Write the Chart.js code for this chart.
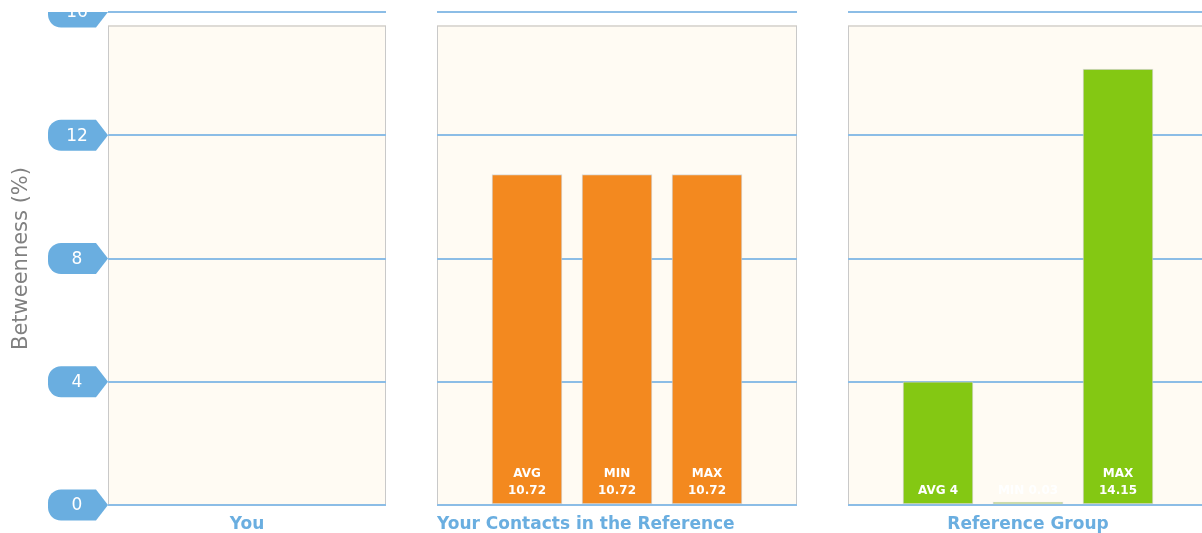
<!DOCTYPE html>
<html>
<head>
<meta charset="utf-8">
<script src="https://cdn.jsdelivr.net/npm/chart.js@4"></script>
<style>
  html, body { margin: 0; padding: 0; background: #fff; }
  body { width: 1202px; height: 533px; overflow: hidden; position: relative; }
  .panel { position: absolute; top: 0; height: 533px; }
  #youBox { left: 0; width: 386px; }
  #contactsBox { left: 437px; width: 360px; }
  #groupBox { left: 848px; width: 360px; }
</style>
</head>
<body>
<div class="panel" id="youBox"><canvas id="you"></canvas></div>
<div class="panel" id="contactsBox"><canvas id="contacts"></canvas></div>
<div class="panel" id="groupBox"><canvas id="group"></canvas></div>
<script>
const statLabels = ['AVG', 'MIN', 'MAX'];
const youValues = [null, null, null];
const contactValues = [10.72, 10.72, 10.72];
const groupValues = [4, 0.03, 14.15];
const panelTitles = ['You', 'Your Contacts in the Reference', 'Reference Group'];
const yTicks = [0, 4, 8, 12, 16];
const yTitle = 'Betweenness (%)';

const BLUE = '#6aaee0';
const GRID = '#8cbde6';
const CREAM = '#fffbf3';
const ORANGE = '#f3891f';
const GREEN = '#84c813';

// cream box behind each panel, starting a bit below the top gridline
const panelBox = {
  id: 'panelBox',
  beforeDraw(chart) {
    const { ctx, chartArea: a } = chart;
    const top = a.top + 14;
    ctx.save();
    ctx.fillStyle = CREAM;
    ctx.fillRect(a.left, top, a.right - a.left, a.bottom - top);
    ctx.strokeStyle = '#dedbd6';
    ctx.lineWidth = 2;
    ctx.beginPath();
    ctx.moveTo(a.left, top);
    ctx.lineTo(a.right, top);
    ctx.stroke();
    ctx.strokeStyle = '#c9c9c9';
    ctx.lineWidth = 1;
    ctx.beginPath();
    ctx.moveTo(a.left + 0.5, top);
    ctx.lineTo(a.left + 0.5, a.bottom);
    ctx.moveTo(a.right - 0.5, top);
    ctx.lineTo(a.right - 0.5, a.bottom);
    ctx.stroke();
    ctx.restore();
  }
};

// blue tag-shaped tick labels on the first panel
const tagTicks = {
  id: 'tagTicks',
  afterDraw(chart) {
    if (!chart.options.plugins.tagTicks.show) return;
    const { ctx, chartArea: a } = chart;
    const y = chart.scales.y;
    ctx.save();
    ctx.beginPath();
    ctx.rect(0, a.top, chart.width, chart.height);
    ctx.clip();
    y.ticks.forEach(t => {
      const cy = y.getPixelForValue(t.value);
      const x0 = 48, x1 = a.left, h = 31, r = 13, tip = 12;
      const top = cy - h / 2, bot = cy + h / 2;
      ctx.fillStyle = BLUE;
      ctx.beginPath();
      ctx.moveTo(x1 - tip, top);
      ctx.lineTo(x1, cy);
      ctx.lineTo(x1 - tip, bot);
      ctx.lineTo(x0 + r, bot);
      ctx.arcTo(x0, bot, x0, cy, r);
      ctx.arcTo(x0, top, x0 + r, top, r);
      ctx.closePath();
      ctx.fill();
      ctx.fillStyle = '#fff';
      ctx.font = '17px "DejaVu Sans"';
      ctx.textAlign = 'center';
      ctx.textBaseline = 'middle';
      ctx.fillText(String(t.value), 77, cy + 1);
    });
    ctx.restore();
  }
};

// white stat labels at the foot of each bar
const barLabels = {
  id: 'barLabels',
  afterDatasetsDraw(chart) {
    const { ctx } = chart;
    const meta = chart.getDatasetMeta(0);
    const data = chart.data.datasets[0].data;
    const names = chart.data.labels;
    ctx.save();
    ctx.font = 'bold 12px "DejaVu Sans"';
    ctx.fillStyle = '#fff';
    ctx.textAlign = 'center';
    ctx.textBaseline = 'middle';
    meta.data.forEach((bar, i) => {
      const v = data[i];
      if (v == null) return;
      const base = chart.scales.y.getPixelForValue(0);
      const full = names[i] + ' ' + v;
      const lines = ctx.measureText(full).width > bar.width - 8 ? [names[i], String(v)] : [full];
      lines.forEach((txt, j) => {
        ctx.fillText(txt, bar.x, base - 14 - (lines.length - 1 - j) * 17);
      });
    });
    ctx.restore();
  }
};

function makeChart(id, values, color, title, titleAlign, showAxis) {
  return new Chart(document.getElementById(id), {
    type: 'bar',
    data: {
      labels: ['', ...statLabels, ''],
      datasets: [{
        data: [null, ...values, null],
        backgroundColor: color,
        borderColor: 'rgba(205,205,205,0.75)',
        borderWidth: 1,
        borderSkipped: false,
        barThickness: 70,
        minBarLength: 3
      }]
    },
    options: {
      responsive: true,
      maintainAspectRatio: false,
      animation: false,
      layout: { padding: { top: 12, left: 0, right: 0, bottom: 0 } },
      plugins: {
        legend: { display: false },
        tooltip: { enabled: false },
        tagTicks: { show: showAxis }
      },
      scales: {
        x: {
          type: 'category',
          offset: false,
          grid: { display: false },
          border: { display: false },
          ticks: { display: false },
          title: {
            display: true,
            text: title,
            align: titleAlign,
            color: BLUE,
            font: { family: 'DejaVu Sans', size: 17, weight: 'bold' },
            padding: { top: 0, bottom: -2 }
          },
          afterFit: s => { s.height = 28; }
        },
        y: {
          min: yTicks[0],
          max: yTicks[yTicks.length - 1],
          ticks: { display: false, stepSize: yTicks[1] - yTicks[0] },
          grid: { color: GRID, lineWidth: 2, drawTicks: false },
          border: { display: false },
          title: {
            display: showAxis,
            text: yTitle,
            color: '#808080',
            font: { family: 'DejaVu Sans', size: 21 },
            padding: { top: 9, bottom: 0 }
          },
          afterFit: s => { s.width = showAxis ? 108 : 0; }
        }
      }
    },
    plugins: [panelBox, tagTicks, barLabels]
  });
}

makeChart('you', youValues, ORANGE, panelTitles[0], 'center', true);
makeChart('contacts', contactValues, ORANGE, panelTitles[1], 'start', false);
makeChart('group', groupValues, GREEN, panelTitles[2], 'center', false);
</script>
</body>
</html>
